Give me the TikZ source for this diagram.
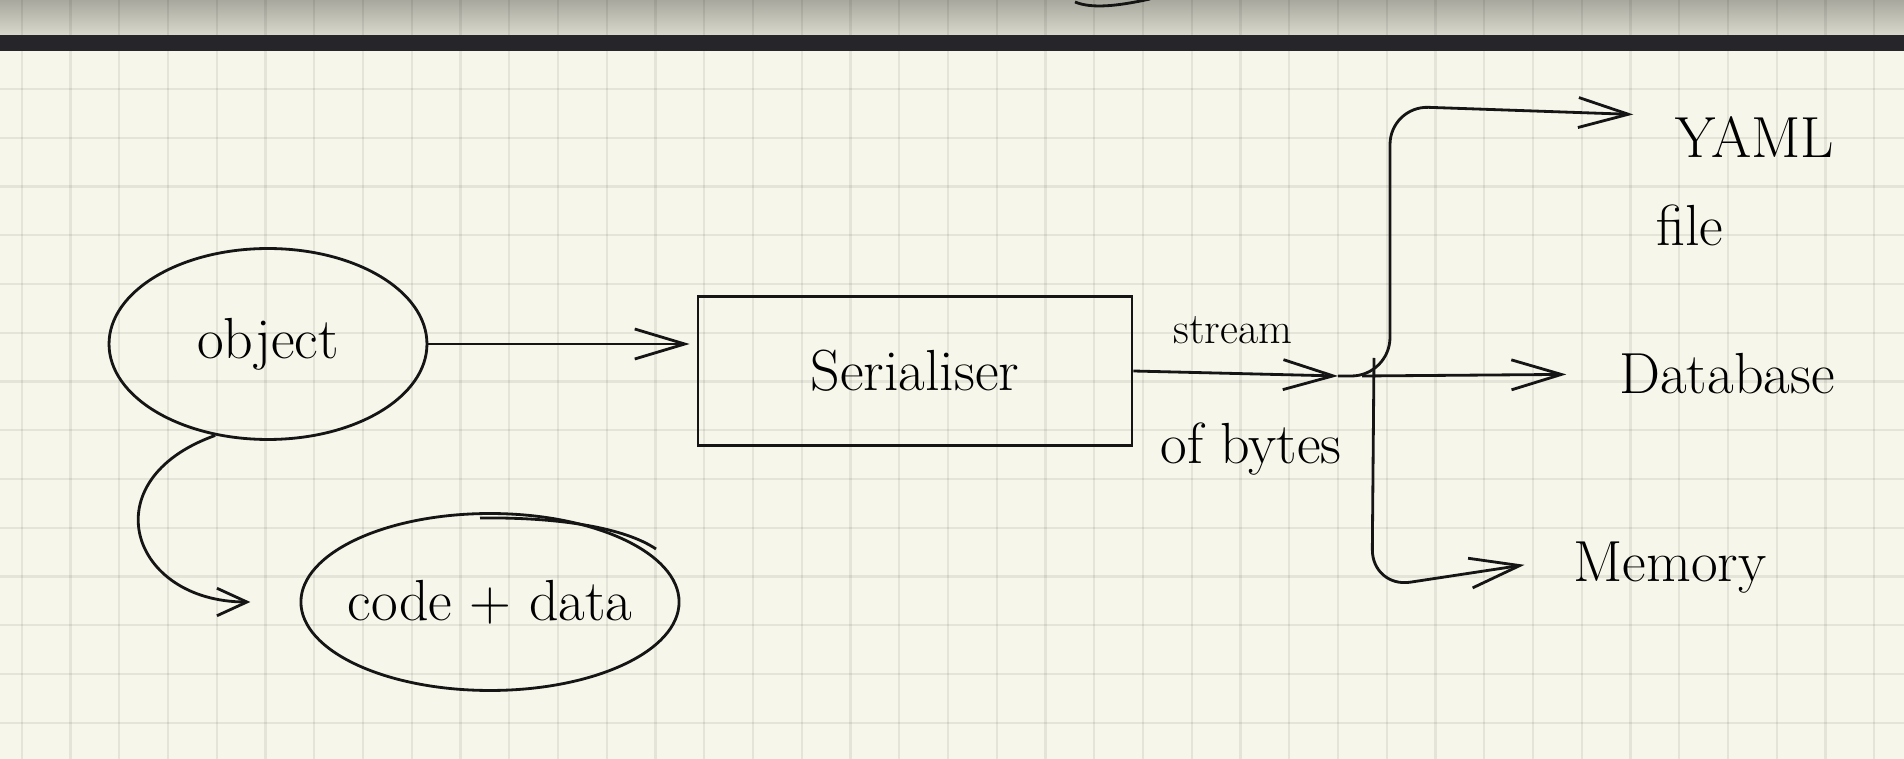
\documentclass[tikz,border=0pt]{standalone}
\usepackage{xcolor}
\usepackage{tikz}
\usetikzlibrary{arrows.meta,positioning,calc,shapes.geometric}
\definecolor{paper}{HTML}{F6F6EA}
\definecolor{pencil}{HTML}{151515}
\definecolor{topbar}{HTML}{26262A}
\definecolor{shadetop}{HTML}{A8A89E}
\definecolor{shadebot}{HTML}{D8D8CC}
\newcommand{\handfont}{\fontsize{33}{38}\selectfont}
\newcommand{\smallhand}{\fontsize{25}{30}\selectfont}
\newcommand{\nodeblob}[5]{
  \node[ellipse,draw=pencil,line width=1.6pt,inner xsep=-5pt,inner ysep=0pt,minimum width=#3,minimum height=#4,font=\handfont] (#1) at #2 {#5};
}
\tikzset{
  stroke/.style={draw=pencil,line width=1.6pt},
  dest/.style={font=\handfont,inner sep=0pt},
  gridline/.style={black,opacity=0.07,line width=1.2pt}
}

\begin{document}
\begin{tikzpicture}[x=0.02cm,y=-0.02cm,>={Straight Barb[length=1cm,width=0.6cm]}]
  % paper, grid and top bar
  \useasboundingbox (0,0) rectangle (1904,759);
  \fill[paper] (0,0) rectangle (1904,759);
  \shade[top color=shadetop,bottom color=shadebot] (0,0) rectangle (1904,35);
  \foreach \i in {0,...,38}
    \draw[gridline] ({21.7+48.75*\i},0) -- ({21.7+48.75*\i},759);
  \foreach \j in {0,...,13}
    \draw[gridline] (0,{89+48.75*\j}) -- (1904,{89+48.75*\j});
  \fill[topbar] (0,35) rectangle (1904,51);
  \draw[stroke] (1075,2) .. controls (1092,9) and (1118,6) .. (1150,-1);

  \nodeblob{obj}{(268,344)}{6.36cm}{3.82cm}{object}
  \nodeblob{code}{(490,602)}{7.54cm}{3.54cm}{code + data}
  \draw[stroke] (480,518) .. controls (560,517) and (625,528) .. (656,549);
  \node[stroke,minimum width=8.68cm,minimum height=2.98cm,font=\handfont] (ser) at (915,371) {Serialiser};

  \node[font=\smallhand] (stream) at (1233,330) {stream};
  \node[font=\handfont] (bytes) at (1251,449) {of bytes};

  \node[dest] (yaml) at (1755,137) {YAML};
  \node[dest] (file) at (1690,225) {file};
  \node[dest] (db) at (1727,374) {Database};
  \node[dest] (mem) at (1670,568) {Memory};

  \coordinate (split) at (1338,376);
  \coordinate (fork) at (1362,376);
  \coordinate (bend) at (1390,106);

  \draw[->,stroke,shorten >=4pt] (obj.east) -- (obj.east -| ser.west);
  \draw[-{Straight Barb[length=0.6cm,width=0.55cm]},stroke,shorten >=28pt] (obj.240) .. controls (90,480) and (130,602) .. (code.west);
  \draw[->,stroke] (ser.east) -- (split);
  \draw[->,stroke,rounded corners=22pt,shorten >=24pt] (split) -| (bend) -- ([yshift=12pt]yaml.west);
  \draw[->,stroke,shorten >=30pt] (fork) -- (db.west);
  \draw[->,stroke,rounded corners=22pt,shorten >=28pt] ($(fork)+(12,-18)$) -- ($(fork)+(10,212)$) -- ([yshift=6pt]mem.west);
\end{tikzpicture}
\end{document}
